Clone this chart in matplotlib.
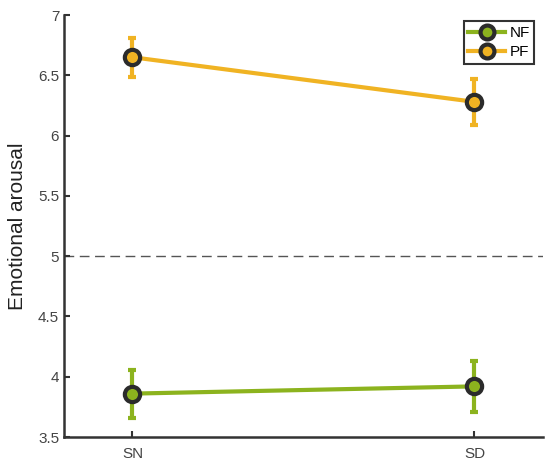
import matplotlib.pyplot as plt
from matplotlib.lines import Line2D

plt.rcParams['font.family'] = ['Liberation Sans', 'DejaVu Sans']

# conditions and group means / errors
conditions = ["SN", "SD"]
groups = ["NF", "PF"]
means = {"NF": [3.86, 3.92], "PF": [6.65, 6.28]}
errors = {"NF": [0.20, 0.21], "PF": [0.16, 0.19]}
colors = {"NF": "#8CB31E", "PF": "#F0B323"}
chance_level = 5

fig = plt.figure(figsize=(5.5, 4.67), dpi=100)
ax = fig.add_axes([0.1164, 0.0642, 0.8706, 0.9036])

x = [1, 2]
for g in groups:
    ax.errorbar(x, means[g], yerr=errors[g], color=colors[g], lw=3, elinewidth=3,
                capsize=3, capthick=2, marker='o', markersize=11,
                markerfacecolor=colors[g], markeredgecolor='#2b2b2b',
                markeredgewidth=3, zorder=3)

ax.axhline(chance_level, color='#555555', lw=1, linestyle=(0, (7, 4)), zorder=1)

ax.set_xlim(0.8, 2.2)
ax.set_ylim(3.5, 7)
ax.set_xticks(x)
ax.set_xticklabels(conditions)
ax.set_yticks([3.5, 4, 4.5, 5, 5.5, 6, 6.5, 7])
ax.set_yticklabels(["3.5", "4", "4.5", "5", "5.5", "6", "6.5", "7"])
ax.set_ylabel("Emotional arousal", fontsize=15, color='#222222', labelpad=8)
ax.tick_params(direction='in', length=4, width=1.5, color='#333333',
               labelcolor='#444444', labelsize=11)
ax.tick_params(axis='x', pad=7)

for s in ['top', 'right']:
    ax.spines[s].set_visible(False)
for s in ['left', 'bottom']:
    ax.spines[s].set_linewidth(1.8)
    ax.spines[s].set_color('#333333')

# legend with markers on a line
handles = [Line2D([0], [0], color=colors[g], lw=3, marker='o', markersize=10,
                  markerfacecolor=colors[g], markeredgecolor='#2b2b2b',
                  markeredgewidth=3) for g in groups]
leg = ax.legend(handles, groups, loc='upper right', bbox_to_anchor=(0.998, 1.003),
                fancybox=False, framealpha=1, edgecolor='#333333', fontsize=11,
                handlelength=2.4, handletextpad=0.3, borderpad=0.3, labelspacing=0.35)
leg.get_frame().set_linewidth(1.5)

fig.savefig("out.png", dpi=100)
